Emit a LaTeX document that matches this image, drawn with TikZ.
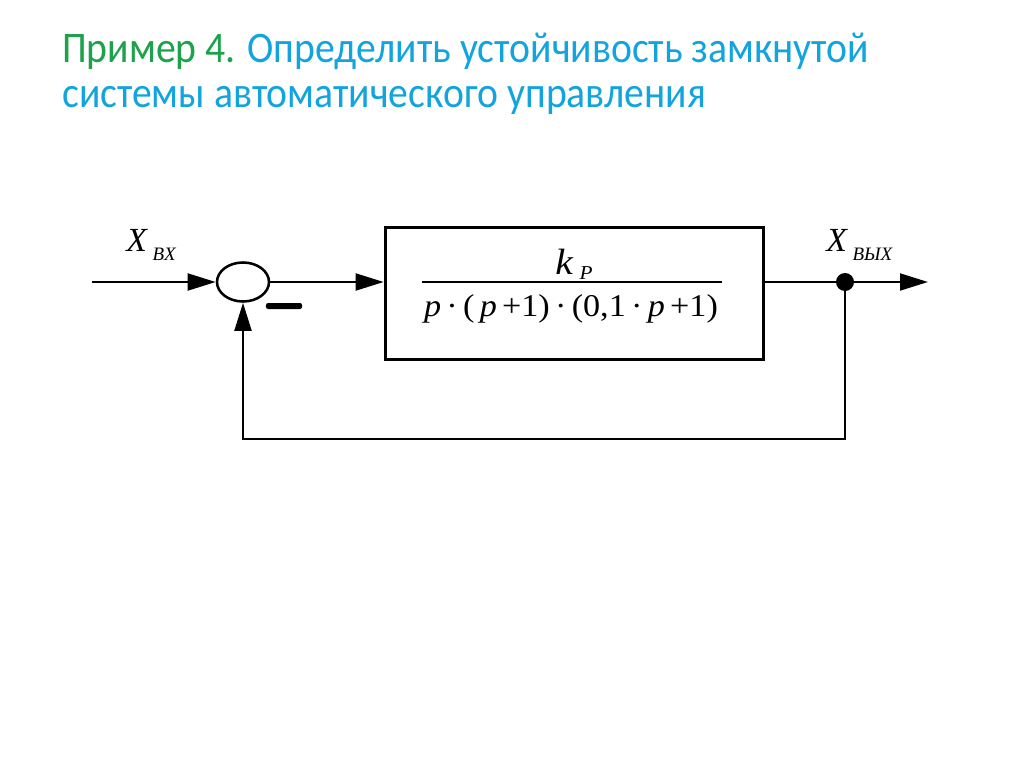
\documentclass[tikz,border=0pt]{standalone}
\usepackage{fontspec}
\setmainfont{Liberation Serif}
\newfontfamily\titlefont[FakeStretch=0.91]{Carlito}
\newfontfamily\eqfont[FakeStretch=1.08]{Liberation Serif}
\usetikzlibrary{arrows.meta,shapes.geometric}
\definecolor{tgreen}{RGB}{28,162,74}
\definecolor{tblue}{RGB}{18,164,222}
\begin{document}
\begin{tikzpicture}[x=0.025cm,y=-0.025cm,
  ln/.style={line width=1.8pt},
  arr/.style={ln,-{Triangle[length=0.7cm,width=0.42cm]}},
  title/.style={anchor=base west,inner sep=0,font=\titlefont\fontsize{31pt}{36pt}\selectfont},
  lbl/.style={anchor=base west,inner sep=0,font=\fontsize{24pt}{28pt}\selectfont\itshape}]
\useasboundingbox[fill=white] (0,0) rectangle (1024,767);
% title
\node[title] (t1) at (62,63) {\textcolor{tgreen}{Пример 4.} \textcolor{tblue}{Определить устойчивость замкнутой}};
\node[title] (t2) at (62,108) {\textcolor{tblue}{системы автоматического управления}};
% blocks
\node[ellipse,draw,ln,minimum width=1.3cm,minimum height=0.975cm,inner sep=0] (sum) at (243,282) {};
\node[draw,line width=2.5pt,minimum width=9.45cm,minimum height=3.3cm,inner sep=0] (box) at (574.5,293.5) {};
\node[fill,rounded corners=1.5pt,minimum width=0.9cm,minimum height=0.15cm,inner sep=0] (minus) at (284,306) {};
\node[circle,fill,inner sep=0,minimum size=0.45cm] (dot) at (845,282) {};
\coordinate (in) at (92,282);
\coordinate (out) at (928,282);
\coordinate (fbr) at (845,439);
\coordinate (fbl) at (243,439);
% fraction
\node[anchor=base,inner sep=0,font=\eqfont\fontsize{26pt}{30pt}\selectfont] (num) at (574,275) {\textit{k}\,\raisebox{-3pt}{\fontsize{14pt}{16pt}\selectfont\textit{P}}};
\coordinate (fl) at (422,282);
\coordinate (fr) at (722,282);
\draw[line width=1.1pt] (fl) -- (fr);
\node[anchor=base,inner sep=0,font=\eqfont\fontsize{22.5pt}{26pt}\selectfont] (den) at (571,316) {\textit{p}\,·\,(\,\textit{p}\,+1)\,·\,(0,1\,·\,\textit{p}\,+1)};
% labels
\node[lbl] (xin) at (126,252) {X\,\raisebox{-6pt}{\fontsize{13.5pt}{15pt}\selectfont BX}};
\node[lbl] (xout) at (826,252) {X\,\raisebox{-6pt}{\fontsize{13.5pt}{15pt}\selectfont ВЫХ}};
% connectors
\draw[arr] (in) -- (sum.west);
\draw[arr] (sum.east) -- (sum.east -| box.west);
\draw[ln] (box.east |- dot) -- (dot);
\draw[arr] (dot) -- (out);
\draw[arr] (dot) -- (fbr) -- (fbl) -- (sum.south);
\end{tikzpicture}
\end{document}
